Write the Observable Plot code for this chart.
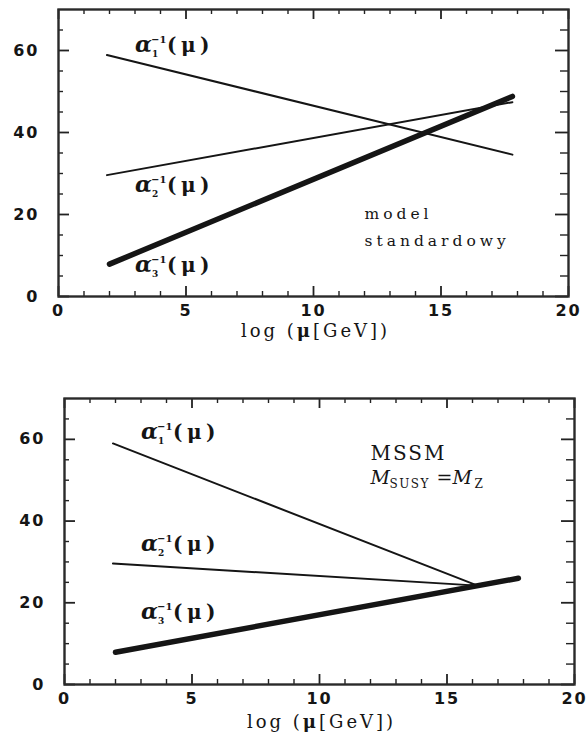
<!DOCTYPE html>
<html><head><meta charset="utf-8">
<script src="https://cdn.jsdelivr.net/npm/d3@7"></script>
<script src="https://cdn.jsdelivr.net/npm/@observablehq/plot@0.6"></script>
<style>
body{margin:0;background:#fff;}
#chart svg{display:block;}
#chart g[aria-label="x-axis tick label"] text,
#chart g[aria-label="y-axis tick label"] text{letter-spacing:2px;}
</style></head><body><div id="chart"></div>
<script>
// ---- ticks ----
const xTicks = [0, 5, 10, 15, 20];
const xMinor = [1,2,3,4,6,7,8,9,11,12,13,14,16,17,18,19];
const yTicks = [0, 20, 40, 60];
const yMinor = [5,10,15,25,30,35,45,50,55,65];
const xLabel = "log (μ[GeV])";

// ---- top panel: standard model ----
const smX12 = [1.9, 17.8];
const smAlpha1 = [58.9, 34.6];
const smAlpha2 = [29.6, 47.4];
const smX3 = [2.0, 17.8];
const smAlpha3 = [7.9, 48.8];
const smLabelX = [3.0, 3.0, 3.0];
const smLabelY = [59.6, 25.4, 5.9];
const smNote = ["model", "standardowy"];
const smNoteX = [12.0, 12.0];
const smNoteY = [19.0, 12.4];

// ---- bottom panel: MSSM ----
const mssmX12 = [1.9, 16.2];
const mssmAlpha1 = [59.0, 24.2];
const mssmAlpha2 = [29.6, 24.2];
const mssmX3 = [2.0, 17.8];
const mssmAlpha3 = [7.9, 26.0];
const mssmLabelX = [3.0, 3.0, 3.0];
const mssmLabelY = [60.1, 32.7, 16.1];
const mssmNoteX = 12.0;
const mssmNoteY = [54.9, 49.1];

const subs = ["1", "2", "3"];
const ink = "#151515";
const spacing = {"model": "4px", "standardowy": "4px", "log (μ[GeV])": "3px", "MSSM": "2px", "SUSY": "1.5px", "(μ)": "4.5px"};

function toPts(xs, ys) { return xs.map((x, i) => ({x, y: ys[i]})); }

function alphaLabels(xs, ys) {
  const idx = d3.range(xs.length);
  const base = {x: i => xs[i], y: i => ys[i], textAnchor: "start", lineAnchor: "bottom", fill: ink, fontFamily: "DejaVu Serif", fontWeight: "bold"};
  return [
    Plot.text(idx, {...base, text: () => "α", fontSize: 22, fontStyle: "italic"}),
    Plot.text(idx, {...base, text: () => "−1", fontSize: 10, dx: 16, dy: -9}),
    Plot.text(idx, {...base, text: i => subs[i], fontSize: 9, dx: 17, dy: 5}),
    Plot.text(idx, {...base, text: () => "(μ)", fontSize: 20, dx: 32})
  ];
}

function frameMarks(w, h) {
  const s = {stroke: "#222"};
  return [
    Plot.ruleX(xMinor, {...s, insetTop: h - 5, strokeWidth: 1.4}),
    Plot.ruleX(xTicks, {...s, insetTop: h - 10, strokeWidth: 1.8}),
    Plot.ruleX(xMinor, {...s, insetBottom: h - 5, strokeWidth: 1.4}),
    Plot.ruleX(xTicks, {...s, insetBottom: h - 10, strokeWidth: 1.8}),
    Plot.ruleY(yMinor, {...s, insetRight: w - 5, strokeWidth: 1.4}),
    Plot.ruleY(yTicks, {...s, insetRight: w - 11, strokeWidth: 1.8}),
    Plot.ruleY(yMinor, {...s, insetLeft: w - 8, strokeWidth: 1.4}),
    Plot.ruleY(yTicks, {...s, insetLeft: w - 13, strokeWidth: 1.8}),
    Plot.axisX(xTicks, {anchor: "bottom", tickSize: 0, tickPadding: 8, label: null, fontSize: 16, fontWeight: "bold", fontFamily: "DejaVu Sans", fill: ink}),
    Plot.axisY(yTicks, {anchor: "left", tickSize: 0, tickPadding: 19, label: null, fontSize: 16, fontWeight: "bold", fontFamily: "DejaVu Sans", fill: ink}),
    Plot.frame({stroke: "#2a2a2a", strokeWidth: 2.4})
  ];
}

function panel(cfg) {
  const w = 588 - cfg.marginLeft - cfg.marginRight;
  const h = cfg.height - cfg.marginTop - cfg.marginBottom;
  const svg = Plot.plot({
    width: 588, height: cfg.height,
    marginTop: cfg.marginTop, marginBottom: cfg.marginBottom,
    marginLeft: cfg.marginLeft, marginRight: cfg.marginRight,
    style: {background: "white", fontFamily: "DejaVu Serif"},
    x: {domain: [0, 20]},
    y: {domain: [0, 70]},
    marks: [
      ...frameMarks(w, h),
      Plot.line(toPts(cfg.x12, cfg.a1), {x: "x", y: "y", stroke: ink, strokeWidth: 2}),
      Plot.line(toPts(cfg.x12, cfg.a2), {x: "x", y: "y", stroke: ink, strokeWidth: 2}),
      Plot.line(toPts(cfg.x3, cfg.a3), {x: "x", y: "y", stroke: ink, strokeWidth: 5.5}),
      ...alphaLabels(cfg.lx, cfg.ly),
      Plot.text([xLabel], {frameAnchor: "bottom", dy: cfg.labelDy, dx: 2, fontSize: 18, fill: ink, fontFamily: "DejaVu Serif", lineAnchor: "bottom"}),
      ...cfg.extra
    ]
  });
  // letter spacing and the bold μ of the axis title
  d3.select(svg).selectAll("text").each(function () {
    const t = this.textContent;
    if (spacing[t]) this.style.letterSpacing = spacing[t];
    if (t === xLabel && !this.querySelector("tspan")) {
      const sel = d3.select(this);
      sel.text(null);
      sel.append("tspan").text("log (");
      sel.append("tspan").attr("font-weight", "bold").text("μ");
      sel.append("tspan").text("[GeV])");
    }
  });
  return svg;
}

const topPanel = panel({
  height: 350, marginTop: 9, marginBottom: 54, marginLeft: 58, marginRight: 20,
  x12: smX12, a1: smAlpha1, a2: smAlpha2, x3: smX3, a3: smAlpha3,
  lx: smLabelX, ly: smLabelY, labelDy: 40,
  extra: [
    Plot.text(smNote, {x: (d, i) => smNoteX[i], y: (d, i) => smNoteY[i], text: d => d, textAnchor: "start", lineAnchor: "bottom", fontSize: 15.5, fill: ink, fontFamily: "DejaVu Serif"})
  ]
});

const mBase = {x: () => mssmNoteX, textAnchor: "start", lineAnchor: "bottom", fill: ink, fontFamily: "DejaVu Serif"};
const bottomPanel = panel({
  height: 384, marginTop: 48, marginBottom: 50, marginLeft: 64, marginRight: 14,
  x12: mssmX12, a1: mssmAlpha1, a2: mssmAlpha2, x3: mssmX3, a3: mssmAlpha3,
  lx: mssmLabelX, ly: mssmLabelY, labelDy: 43,
  extra: [
    Plot.text(["MSSM"], {...mBase, y: () => mssmNoteY[0], text: d => d, fontSize: 20}),
    Plot.text(["M"], {...mBase, y: () => mssmNoteY[1], text: d => d, fontSize: 19, fontStyle: "italic"}),
    Plot.text(["SUSY"], {...mBase, y: () => mssmNoteY[1], text: d => d, fontSize: 12, dx: 19, dy: 4}),
    Plot.text(["="], {...mBase, y: () => mssmNoteY[1], text: d => d, fontSize: 19, dx: 66}),
    Plot.text(["M"], {...mBase, y: () => mssmNoteY[1], text: d => d, fontSize: 19, fontStyle: "italic", dx: 82}),
    Plot.text(["Z"], {...mBase, y: () => mssmNoteY[1], text: d => d, fontSize: 12, dx: 104, dy: 4})
  ]
});

document.getElementById("chart").append(topPanel, bottomPanel);
</script></body></html>
